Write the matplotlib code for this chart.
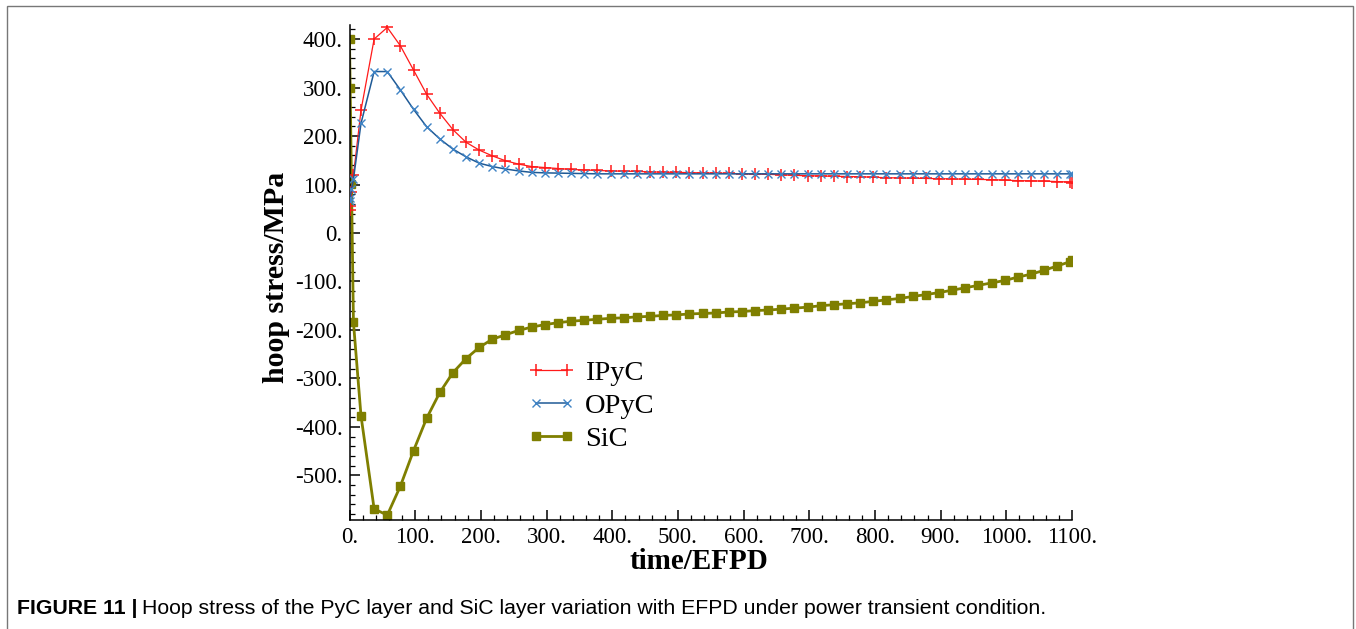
"""
Hoop stress of PyC / SiC layers vs EFPD (power transient)
output: out.png
"""
import numpy as np
import matplotlib
matplotlib.use("Agg")
import matplotlib.pyplot as plt
from matplotlib.patches import Rectangle
from matplotlib.ticker import MultipleLocator, FuncFormatter

W, H = 1356, 629
SERIF = ["Liberation Serif", "DejaVu Serif"]

# ── data ────────────────────────────────────────────────────────────────────
t_early = [0, 1, 3, 6]
t_main = list(np.arange(17.5, 1100, 20)) + [1100]
t = np.array(t_early + t_main)

ipyc = [47, 55, 85, 119,
        253, 400, 424, 386, 336, 286, 247, 213, 187, 171, 159, 149, 142,
        137, 135, 133, 131, 130, 129, 128, 127.5, 127, 126, 125.5, 125,
        124.5, 124, 123.5, 123, 122, 121.5, 121, 120, 119, 118,
        117.5, 117, 116.5, 116, 115, 114, 113.5, 113, 112.5, 112,
        111.5, 111, 110.5, 110, 109, 108, 107.5, 107, 106, 105,
        104]
opyc = [65, 72, 90, 111,
        226, 333, 333, 295, 255, 219, 194, 173, 157, 144, 137, 132, 128,
        125, 124, 123.5, 123, 122.5] + [122] * 17 + [122] * 20 + [122]
sic = [400, 300, 102, -184,
       -377, -569, -582, -522, -449, -382, -329, -288, -259, -236, -219, -210, -201,
       -194, -189, -185, -182, -180, -178, -176, -175, -173, -172, -170,
       -169, -167, -166, -165, -163, -162, -160, -159, -157, -155, -153,
       -150, -148, -146, -144, -141, -138, -135, -131, -127, -123,
       -118, -113, -108, -103, -98, -91, -85, -77, -68, -59,
       -56]

labels = ["IPyC", "OPyC", "SiC"]

# ── figure / axes (pixel layout) ────────────────────────────────────────────
fig = plt.figure(figsize=(W / 100, H / 100), dpi=100, facecolor="white")
x0, x1 = 349.5, 1072
y_top, y_bot = 25, 520
ax = fig.add_axes([x0 / W, (H - y_bot) / H, (x1 - x0) / W, (y_bot - y_top) / H])

ax.plot(t, ipyc, color="#ff1a1a", lw=0.9, marker="+", ms=8.5, mew=1.1,
        label=labels[0], zorder=3)
ax.plot(t, opyc, color="#1f5a96", lw=1.1, marker="x", ms=6, mew=1.0,
        mec="#3f83c4", label=labels[1], zorder=3)
ax.plot(t, sic, color="#7f7f00", lw=2.0, marker="s", ms=5.5,
        label=labels[2], zorder=2)

ax.set_xlim(0, 1100)
ax.set_ylim(-592, 429)

# spines: only left + bottom
for side in ("top", "right"):
    ax.spines[side].set_visible(False)
for side in ("left", "bottom"):
    ax.spines[side].set_linewidth(1.1)

ax.xaxis.set_major_locator(MultipleLocator(100))
ax.xaxis.set_minor_locator(MultipleLocator(20))
ax.yaxis.set_major_locator(MultipleLocator(100))
ax.yaxis.set_minor_locator(MultipleLocator(20))
fmt = FuncFormatter(lambda v, p: f"{int(round(v))}.")
ax.xaxis.set_major_formatter(fmt)
ax.yaxis.set_major_formatter(fmt)
ax.tick_params(which="major", direction="in", length=7, width=1.1,
               labelsize=16.5, pad=5)
ax.tick_params(which="minor", direction="in", length=3.5, width=0.9)
for lbl in ax.get_xticklabels() + ax.get_yticklabels():
    lbl.set_family(SERIF)

ax.set_xlabel("time/EFPD", family=SERIF, fontsize=21, fontweight="bold")
ax.set_ylabel("hoop stress/MPa", family=SERIF, fontsize=21.5, fontweight="bold")
ax.xaxis.set_label_coords((699 - x0) / (x1 - x0), -0.056)
ax.yaxis.set_label_coords((290 - x0) / (x1 - x0), 0.49)

leg = ax.legend(loc="upper left", bbox_to_anchor=((527 - x0) / (x1 - x0), 0.324),
                frameon=False, borderpad=0, borderaxespad=0, numpoints=2,
                handlelength=1.7, handletextpad=0.35, labelspacing=0.26,
                prop={"family": SERIF, "size": 20.5})

# ── outer frame + caption ───────────────────────────────────────────────────
fig.add_artist(Rectangle((7 / W, -0.02), (1353 - 7) / W, (H - 6) / H + 0.02,
                         transform=fig.transFigure, fill=False,
                         edgecolor="#777777", lw=1.0))

cap_y = (H - 609) / H
bold = fig.text(17 / W, cap_y, "FIGURE 11 |", fontsize=15.3, fontweight="bold",
                family="Liberation Sans", va="center", ha="left")
fig.canvas.draw()
bb = bold.get_window_extent()
fig.text((bb.x1 + 5) / W, cap_y,
         "Hoop stress of the PyC layer and SiC layer variation with EFPD under power transient condition.",
         fontsize=15.3, family="Liberation Sans", va="center", ha="left")

fig.savefig("out.png", dpi=100, facecolor="white")
